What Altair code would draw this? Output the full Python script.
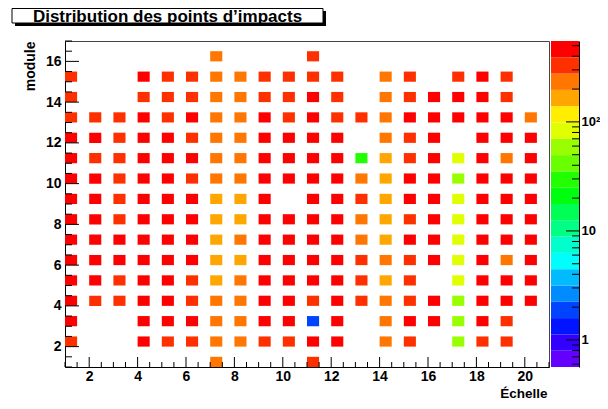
import altair as alt
import numpy as np
import pandas as pd

FONT = "Liberation Sans"

# ---------------- data (counts, 0 = empty bin) ----------------
echelles = list(range(1, 21))
row_16 = [0, 0, 0, 0, 0, 0, 234, 0, 0, 0, 330, 0, 0, 0, 0, 0, 0, 0, 0, 0]
row_15 = [330, 0, 0, 465, 330, 330, 234, 234, 330, 330, 330, 330, 0, 234, 330, 0, 330, 465, 330, 0]
row_14 = [330, 0, 0, 330, 330, 330, 234, 234, 330, 330, 465, 330, 0, 234, 330, 465, 465, 465, 330, 0]
row_13 = [330, 330, 330, 465, 330, 465, 234, 234, 465, 330, 465, 330, 330, 234, 465, 465, 465, 465, 465, 234]
row_12 = [465, 465, 330, 465, 465, 330, 234, 234, 465, 465, 465, 465, 0, 234, 330, 465, 0, 465, 465, 465]
row_11 = [465, 330, 330, 465, 465, 465, 234, 234, 465, 465, 465, 465, 30, 165, 330, 465, 83, 465, 234, 465]
row_10 = [465, 465, 330, 465, 465, 330, 234, 234, 465, 465, 465, 465, 234, 165, 465, 465, 59, 465, 465, 465]
row_09 = [465, 465, 330, 465, 465, 465, 165, 165, 465, 0, 465, 465, 330, 165, 465, 465, 83, 465, 465, 465]
row_08 = [465, 465, 330, 465, 465, 465, 165, 165, 465, 465, 465, 465, 234, 165, 330, 465, 83, 465, 465, 465]
row_07 = [465, 465, 465, 465, 465, 465, 165, 234, 465, 465, 465, 465, 234, 165, 465, 465, 83, 465, 465, 465]
row_06 = [465, 465, 465, 465, 465, 465, 165, 165, 465, 465, 465, 465, 330, 234, 330, 465, 83, 465, 234, 465]
row_05 = [465, 465, 330, 465, 465, 330, 165, 234, 465, 465, 465, 465, 330, 165, 330, 0, 83, 465, 465, 465]
row_04 = [465, 330, 330, 465, 465, 330, 234, 234, 465, 465, 330, 465, 330, 234, 330, 465, 59, 465, 465, 465]
row_03 = [465, 0, 0, 465, 465, 465, 234, 234, 465, 465, 2, 465, 0, 234, 465, 465, 59, 465, 330, 0]
row_02 = [330, 0, 0, 465, 330, 330, 234, 234, 330, 330, 465, 465, 0, 234, 330, 0, 59, 330, 330, 0]
row_01 = [0, 0, 0, 0, 0, 0, 234, 0, 0, 0, 330, 0, 0, 0, 0, 0, 0, 0, 0, 0]

rows = {16: row_16, 15: row_15, 14: row_14, 13: row_13, 12: row_12, 11: row_11,
        10: row_10, 9: row_09, 8: row_08, 7: row_07, 6: row_06, 5: row_05,
        4: row_04, 3: row_03, 2: row_02, 1: row_01}

x_labels = [2, 4, 6, 8, 10, 12, 14, 16, 18, 20]
y_labels = [2, 4, 6, 8, 10, 12, 14, 16]
z_labels = [1, 10, 100]
z_minor = [0.6, 0.7, 0.8, 0.9, 2, 3, 4, 5, 6, 7, 8, 9, 20, 30, 40, 50, 60, 70, 80, 90,
           200, 300, 400, 500]
z_min, z_max = 0.565, 552.0
title_text = "Distribution des points d\u2019impacts"

palette = ["#6300ff", "#3300ff", "#0014ff", "#0044ff", "#008bff", "#00bbff", "#00fffc",
           "#00ffcc", "#00ff85", "#00ff55", "#00ff0e", "#22ff00", "#69ff00", "#99ff00",
           "#e0ff00", "#ffee00", "#ffa700", "#ff7700", "#ff3000", "#ff0000"]
n_levels = len(palette)

# ---------------- tables ----------------
cells = pd.DataFrame([
    {"echelle": e, "module": m, "impacts": v}
    for m, row in rows.items() for e, v in zip(echelles, row) if v > 0
])
x_major_df = pd.DataFrame({"v": x_labels})
x_minor_df = pd.DataFrame({"v": [k / 2 for k in range(2, 43) if k % 4 != 0]})
y_major_df = pd.DataFrame({"v": y_labels})
y_minor_df = pd.DataFrame({"v": [k / 2 for k in range(2, 35) if k % 4 != 0]})
z_major_df = pd.DataFrame({"v": z_labels})
z_minor_df = pd.DataFrame({"v": z_minor})
bands = pd.DataFrame({"level": list(range(n_levels))})
one = pd.DataFrame({"t": [title_text]})

# ---------------- geometry ----------------
W, H = 484, 326
CB_L, CB_R = 486, 514
l_min, l_max = float(np.log10(z_min)), float(np.log10(z_max))
step = (l_max - l_min) / n_levels

xs = alt.Scale(domain=[1, 21], nice=False, zero=False)
ys = alt.Scale(domain=[1, 17], nice=False, zero=False)
zs = alt.Scale(type="log", domain=[z_min, z_max], nice=False)
cs = alt.Scale(type="quantize", domain=[l_min, l_max], range=palette, nice=False, zero=False)

x_axis = alt.Axis(
    values=x_labels, tickSize=0, grid=False, domainColor="black",
    labelFont=FONT, labelFontSize=14, labelFontWeight="bold", labelColor="black",
    labelPadding=2,
    title="\u00c9chelle", titleFont=FONT, titleFontSize=13.5, titleFontWeight="bold",
    titleColor="black", titleAlign="right", titleBaseline="bottom",
    titleX=482, titleY=33)

heat = alt.Chart(cells).transform_calculate(
    x1="datum.echelle + 0.5",
    y1="datum.module + 0.5",
    logv="log(datum.impacts) / LN10",
).mark_rect().encode(
    x=alt.X("echelle:Q", scale=xs, axis=x_axis),
    x2="x1:Q",
    y=alt.Y("module:Q", scale=ys, axis=alt.Axis(
        values=y_labels, tickSize=0, grid=False, domainColor="black",
        labelFont=FONT, labelFontSize=14, labelFontWeight="bold", labelColor="black",
        labelPadding=4,
        title="module", titleFont=FONT, titleFontSize=14, titleFontWeight="bold",
        titleColor="black", titleAngle=270, titleAlign="right", titleBaseline="middle",
        titleX=-35, titleY=0)),
    y2="y1:Q",
    color=alt.Color("logv:Q", scale=cs, legend=None),
)

cbar = alt.Chart(bands).transform_calculate(
    logv=f"{l_min} + (datum.level + 0.5) * {step}",
    lo=f"pow(10, {l_min} + datum.level * {step})",
    hi=f"pow(10, {l_min} + (datum.level + 1) * {step})",
).mark_rect().encode(
    x=alt.value(CB_L), x2=alt.value(CB_R),
    y=alt.Y("lo:Q", scale=zs, axis=alt.Axis(
        orient="right", offset=CB_R - W, values=z_labels, tickSize=0, grid=False,
        domainColor="black",
        labelExpr="datum.value >= 100 ? '10\u00b2' : datum.value >= 10 ? '10' : '1'",
        labelFont=FONT, labelFontSize=13, labelFontWeight="bold", labelColor="black",
        labelPadding=2, labelAlign="left", title=None)),
    y2="hi:Q",
    color=alt.Color("logv:Q", scale=cs, legend=None),
)

z_major_ticks = alt.Chart(z_major_df).mark_rule(color="black").encode(
    y=alt.Y("v:Q", scale=zs, axis=None), x=alt.value(CB_R - 13), x2=alt.value(CB_R))
z_minor_ticks = alt.Chart(z_minor_df).mark_rule(color="black").encode(
    y=alt.Y("v:Q", scale=zs, axis=None), x=alt.value(CB_R - 7), x2=alt.value(CB_R))

x_major_ticks = alt.Chart(x_major_df).mark_rule(color="black").encode(
    x=alt.X("v:Q", scale=xs, axis=x_axis), y=alt.value(H), y2=alt.value(H - 10))
x_minor_ticks = alt.Chart(x_minor_df).mark_rule(color="black").encode(
    x=alt.X("v:Q", scale=xs, axis=x_axis), y=alt.value(H), y2=alt.value(H - 5))
y_major_ticks = alt.Chart(y_major_df).mark_rule(color="black").encode(
    y=alt.Y("v:Q", scale=ys, axis=None), x=alt.value(0), x2=alt.value(14))
y_minor_ticks = alt.Chart(y_minor_df).mark_rule(color="black").encode(
    y=alt.Y("v:Q", scale=ys, axis=None), x=alt.value(0), x2=alt.value(7))

shadow = alt.Chart(one).mark_rect(color="black").encode(
    x=alt.value(-50), x2=alt.value(261), y=alt.value(-30), y2=alt.value(-15))
box = alt.Chart(one).mark_rect(fill="white", stroke="black", strokeWidth=1).encode(
    x=alt.value(-53), x2=alt.value(258), y=alt.value(-32.5), y2=alt.value(-18))
title = alt.Chart(one).mark_text(
    font=FONT, fontSize=17, fontWeight="bold", color="black",
    align="center", baseline="middle").encode(
    x=alt.value(102.5), y=alt.value(-24.5), text="t:N")

chart = alt.layer(
    heat, cbar, z_major_ticks, z_minor_ticks,
    x_major_ticks, x_minor_ticks, y_major_ticks, y_minor_ticks,
    shadow, box, title,
).resolve_scale(y="independent").properties(
    width=W, height=H,
    autosize=alt.AutoSizeParams(type="none"),
    padding={"left": 57, "top": 33, "right": 51, "bottom": 34},
    background="white",
).configure_view(stroke="#444", strokeWidth=1)

chart.save("out.html", embed_options={"renderer": "svg", "actions": False})
